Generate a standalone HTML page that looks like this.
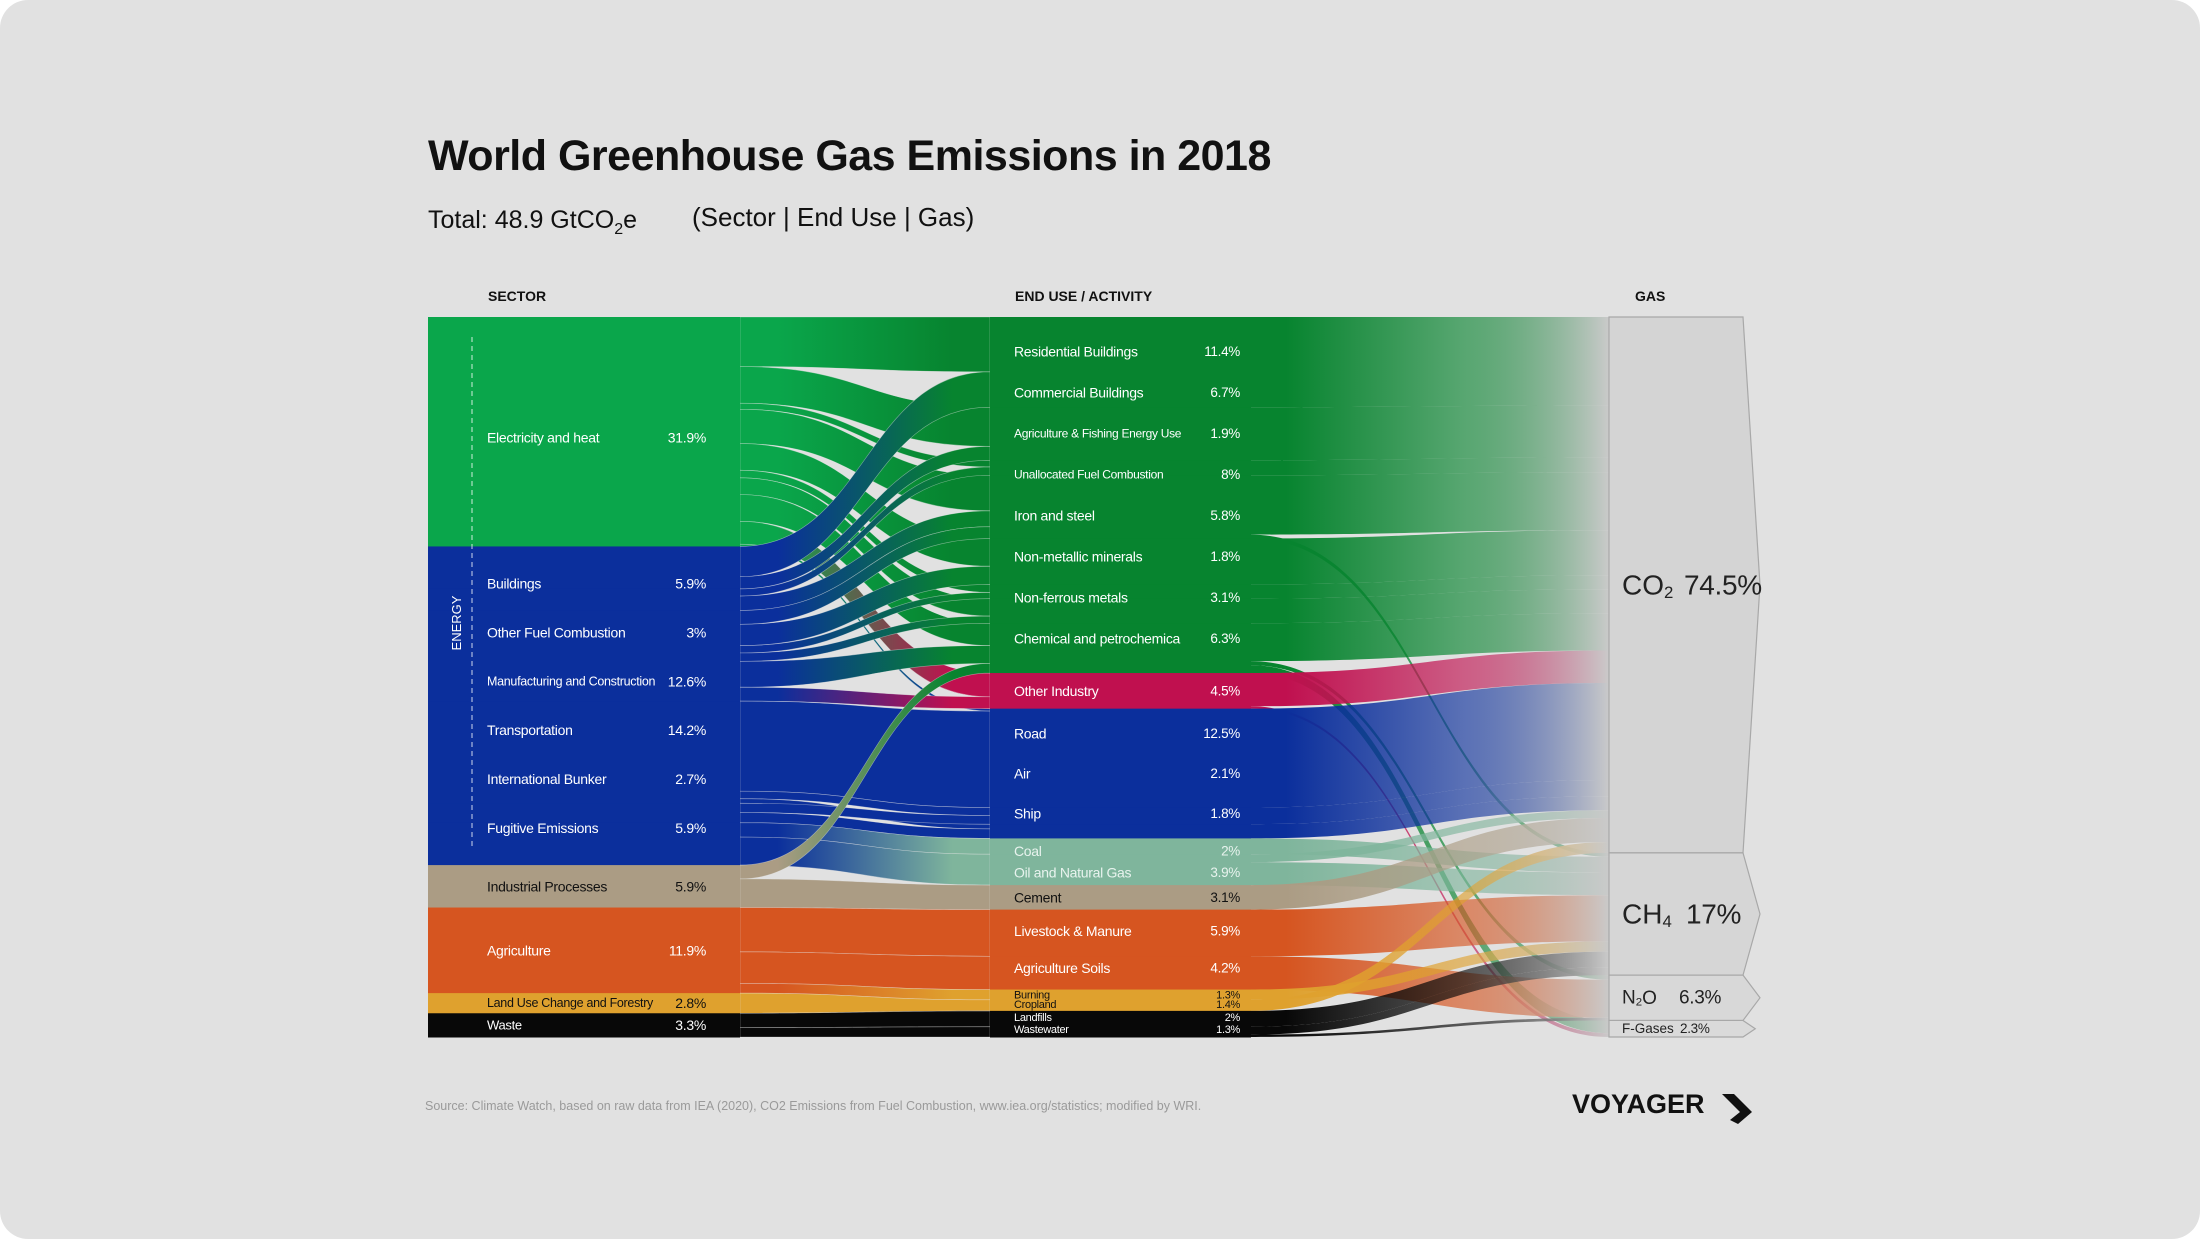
<!DOCTYPE html>
<html><head><meta charset="utf-8">
<style>
html,body{margin:0;padding:0;background:#fff;}
body{width:2200px;height:1239px;overflow:hidden;font-family:"Liberation Sans",sans-serif;}
#card{position:absolute;left:0;top:0;width:2200px;height:1239px;background:#e1e1e1;border-radius:28px;}
svg{position:absolute;left:0;top:0;}
</style></head>
<body>
<div id="card"></div>
<svg id="chart" width="2200" height="1239">
  <defs id="defs"></defs>
  <text x="428" y="170" font-size="43" font-weight="bold" fill="#111" letter-spacing="-0.5">World Greenhouse Gas Emissions in 2018</text>
  <text x="428" y="228" font-size="25" fill="#111">Total: 48.9 GtCO<tspan font-size="16" dy="6">2</tspan><tspan dy="-6">e</tspan></text>
  <text x="692" y="226" font-size="26" fill="#111">(Sector | End Use | Gas)</text>
  <text x="488" y="301" font-size="14" font-weight="bold" fill="#111">SECTOR</text>
  <text x="1015" y="301" font-size="14" font-weight="bold" fill="#111">END USE / ACTIVITY</text>
  <text x="1635" y="301" font-size="14" font-weight="bold" fill="#111">GAS</text>
  <g id="links1"></g><g id="links2"></g><g id="nodes"></g><g id="labels"></g>
  <text x="425" y="1110" font-size="12.5" fill="#9a9a9a">Source: Climate Watch, based on raw data from IEA (2020), CO2 Emissions from Fuel Combustion, www.iea.org/statistics; modified by WRI.</text>
  <text x="1572" y="1113" font-size="27" font-weight="bold" fill="#111">VOYAGER</text>
  <polygon points="1722,1094 1734,1094 1752,1112 1738,1124 1730,1120 1740,1112" fill="#111"/>
</svg>
<script>
const sectors=["Electricity and heat","Buildings","Other Fuel Combustion","Manufacturing and Construction","Transportation","International Bunker","Fugitive Emissions","Industrial Processes","Agriculture","Land Use Change and Forestry","Waste"];
const sectorValues=[31.9,5.9,3,12.6,14.2,2.7,5.9,5.9,11.9,2.8,3.3];
const sectorLabels=["31.9%","5.9%","3%","12.6%","14.2%","2.7%","5.9%","5.9%","11.9%","2.8%","3.3%"];
const endUses=["Residential Buildings","Commercial Buildings","Agriculture & Fishing Energy Use","Unallocated Fuel Combustion","Iron and steel","Non-metallic minerals","Non-ferrous metals","Chemical and petrochemica","Other Industry","Road","Air","Ship","Coal","Oil and Natural Gas","Cement","Livestock & Manure","Agriculture Soils","Burning","Cropland","Landfills","Wastewater"];
const endUseValues=[11.4,6.7,1.9,8,5.8,1.8,3.1,6.3,4.5,12.5,2.1,1.8,2,3.9,3.1,5.9,4.2,1.3,1.4,2,1.3];
const endUseLabels=["11.4%","6.7%","1.9%","8%","5.8%","1.8%","3.1%","6.3%","4.5%","12.5%","2.1%","1.8%","2%","3.9%","3.1%","5.9%","4.2%","1.3%","1.4%","2%","1.3%"];
const gases=["CO2","CH4","N2O","F-Gases"];
const gasValues=[74.5,17,6.3,2.3];
const gasLabels=["74.5%","17%","6.3%","2.3%"];
const flow1Source=[0,0,0,0,0,0,0,0,0,0, 1,1, 2,2, 3,3,3,3,3,3, 4,4,4, 5,5, 6,6, 7,7, 8,8,8, 9, 10,10];
const flow1Target=[0,1,2,3,4,5,6,7,8,9, 0,1, 2,3, 3,4,5,6,7,8, 9,10,11, 10,11, 12,13, 7,14, 15,16,17, 18, 19,20];
const flow1Value=[6.5,4.8,0.8,4.5,3.5,1.0,2.2,3.5,3.0,0.3, 4.2,1.7, 1.0,2.0, 1.5,2.3,0.8,0.9,2.8,1.5, 11.9,1.0,0.6, 1.1,1.2, 2.0,3.9, 1.5,3.1, 5.9,4.2,1.3, 1.4, 2.0,1.3];
const flow2Source=[0,1,2,3,3,4,5,6,7,7,7,8,8,9,10,11,12,13,13,14,15,16,17,18,19,20,20];
const flow2Target=[0,0,0,0,1,0,0,0,0,2,3,0,3,0,0,0,1,0,1,0,1,2,1,0,1,1,2];
const flow2Value=[11.4,6.7,1.9,7.5,0.5,5.8,1.8,3.1,4.8,0.5,1.0,4.2,0.3,12.5,2.1,1.8,2.0,1.0,2.9,3.1,5.9,4.2,1.3,1.4,2.0,1.0,0.3];

const sectorColors=["#0aa64b","#0b2f9c","#0b2f9c","#0b2f9c","#0b2f9c","#0b2f9c","#0b2f9c","#ab9c84","#d65520","#dfa12e","#080808"];
const endUseColors=["#07842f","#07842f","#07842f","#07842f","#07842f","#07842f","#07842f","#07842f","#c0104f","#0b2f9c","#0b2f9c","#0b2f9c","#7fb59c","#7fb59c","#ab9c84","#d65520","#d65520","#dfa12e","#dfa12e","#080808","#080808"];
const TOP=317,H=720,XL0=428,XL1=740,XM0=990,XM1=1250,XG0=1609,XG1=1743;
const NS="http://www.w3.org/2000/svg";
function mk(tag,attrs,parent){const e=document.createElementNS(NS,tag);for(const k in attrs)e.setAttribute(k,attrs[k]);parent.appendChild(e);return e;}
function stack(vals){const s=vals.reduce((a,b)=>a+b,0);let c=0;return vals.map(v=>{const y0=TOP+c/s*H;c+=v;return [y0,TOP+c/s*H];});}
const sy=stack(sectorValues),my=stack(endUseValues),gy=stack(gasValues);
const defs=document.getElementById('defs');
let gid=0;
function grad(x1,x2,stops){const id='g'+(gid++);const g=mk('linearGradient',{id:id,gradientUnits:'userSpaceOnUse',x1:x1,x2:x2,y1:0,y2:0},defs);stops.forEach(s=>mk('stop',{offset:s[0],'stop-color':s[1]},g));return id;}
function links(src,tgt,val,ys,yt,x0,x1,colorFn,parent,nm,strokeW){
  const n=val.length,outSum={},inSum={};
  for(let i=0;i<n;i++){outSum[src[i]]=(outSum[src[i]]||0)+val[i];inSum[tgt[i]]=(inSum[tgt[i]]||0)+val[i];}
  const idx=[...Array(n).keys()];
  const a0={},a1={};
  const bySrc=idx.slice().sort((a,b)=>src[a]-src[b]||tgt[a]-tgt[b]);
  const byTgt=idx.slice().sort((a,b)=>tgt[a]-tgt[b]||src[a]-src[b]);
  const cs={},ct={};
  bySrc.forEach(i=>{const s=src[i],h=ys[s][1]-ys[s][0];const c=cs[s]||0;a0[i]=[ys[s][0]+c/outSum[s]*h,ys[s][0]+(c+val[i])/outSum[s]*h];cs[s]=c+val[i];});
  byTgt.forEach(i=>{const t=tgt[i],h=yt[t][1]-yt[t][0];const c=ct[t]||0;a1[i]=[yt[t][0]+c/inSum[t]*h,yt[t][0]+(c+val[i])/inSum[t]*h];ct[t]=c+val[i];});
  const xm=(x0+x1)/2;
  idx.forEach(i=>{
    const [p,q]=a0[i],[r,s]=a1[i];
    const d=`M${x0},${p}C${xm},${p} ${xm},${r} ${x1},${r}L${x1},${s}C${xm},${s} ${xm},${q} ${x0},${q}Z`;
    const el=mk('path',{d:d,fill:'url(#'+colorFn(i)+')',stroke:'#e8e8e8','stroke-width':strokeW,'stroke-opacity':0.5},parent);
    
    
  });
}
links(flow1Source,flow1Target,flow1Value,sy,my,XL1,XM0,i=>grad(XL1,XM0,[[0,sectorColors[flow1Source[i]]],[0.15,sectorColors[flow1Source[i]]],[0.85,endUseColors[flow1Target[i]]],[1,endUseColors[flow1Target[i]]]]),document.getElementById('links1'),'sector-enduse-flow',0.6);
links(flow2Source,flow2Target,flow2Value,my,gy,XM1,XG0,i=>grad(XM1,XG0,[[0,endUseColors[flow2Source[i]]],[0.1,endUseColors[flow2Source[i]]],[0.6,endUseColors[flow2Source[i]]+'a0'],[1,'#cacaca']]),document.getElementById('links2'),'enduse-gas-flow',0);

const nodes=document.getElementById('nodes'),labels=document.getElementById('labels');
sectors.forEach((s,i)=>{
  const r=mk('rect',{x:XL0,y:sy[i][0],width:XL1-XL0,height:sy[i][1]-sy[i][0]+0.5,fill:sectorColors[i]},nodes);
  
  
});
endUses.forEach((s,i)=>{
  const r=mk('rect',{x:XM0,y:my[i][0],width:XM1-XM0+1,height:my[i][1]-my[i][0]+0.5,fill:endUseColors[i]},nodes);
  
  
});
const gcol=['#d4d4d4','#d6d6d6','#d8d8d8','#dadada'];
gases.forEach((g,i)=>{
  const [a,b]=gy[i],m=(a+b)/2,tip=Math.min(17,(b-a)/2+4);
  const p=mk('polygon',{points:`${XG0},${a} ${XG1},${a} ${XG1+tip},${m} ${XG1},${b} ${XG0},${b}`,fill:gcol[i],stroke:'#a8a8a8','stroke-width':1.2},nodes);
  
  
});
function groups(colors,ys){const out=[];let st=0;for(let i=1;i<=colors.length;i++){if(i==colors.length||colors[i]!==colors[st]){const n=i-st,t=ys[st][0],b=ys[i-1][1],mid=(t+b)/2,sp=(b-t)/n*0.92;for(let k=0;k<n;k++)out.push(mid+(k-(n-1)/2)*sp);st=i;}}return out;}
const sl=groups(sectorColors,sy),ml=groups(endUseColors,my);
function txt(x,y,s,size,fill,anchor,nm){const t=mk('text',{x:x,y:y,'font-size':size,fill:fill,'text-anchor':anchor||'start','dominant-baseline':'central','letter-spacing':'-0.3'},labels);t.textContent=s;return t;}
const darkText=c=>c==='#ab9c84'||c==='#dfa12e';
sectors.forEach((s,i)=>{const f=darkText(sectorColors[i])?'#111':'#fff';const sz=(i==3||i==9)?12.5:(i==10?13:14);
  txt(487,sl[i]+(i==0?6:0),s,sz,f,'start','sector-label-'+i);txt(706,sl[i]+(i==0?6:0),sectorLabels[i],14,f,'end','sector-value-'+i);});
endUses.forEach((s,i)=>{const c=endUseColors[i];const f=darkText(c)?'#111':(c==='#7fb59c'?'#e8f3ee':'#fff');
  const sz=i>=17?11:((i==2||i==3)?12:14);
  txt(1014,ml[i],s,sz,f,'start','enduse-label-'+i);txt(1240,ml[i],endUseLabels[i],sz==11?11:13.5,f,'end','enduse-value-'+i);});
const gsz=[28,28,19,13.5];
gases.forEach((g,i)=>{const y=(gy[i][0]+gy[i][1])/2;
  const t=mk('text',{x:1622,y:y,'font-size':gsz[i],fill:'#222','dominant-baseline':'central'},labels);
  
  if(i<3){const m=g.match(/^([A-Z]+)(\d)(.*)$/);t.appendChild(document.createTextNode(m[1]));const s=document.createElementNS(NS,'tspan');s.setAttribute('font-size',gsz[i]*0.6);s.setAttribute('dy',gsz[i]*0.25);s.textContent=m[2];t.appendChild(s);const r=document.createElementNS(NS,'tspan');r.setAttribute('dy',-gsz[i]*0.25);r.textContent=m[3];t.appendChild(r);}
  else t.textContent=g;
  const dx=[1684,1686,1679,1680][i];
  txt(dx,y,gasLabels[i],gsz[i],'#222','start','gas-value-'+i);
});
const e=mk('text',{x:0,y:0,'font-size':13,fill:'#fff','text-anchor':'middle',transform:'translate(461,623) rotate(-90)'},labels);e.textContent='ENERGY';

const dl=mk('line',{x1:472,y1:337,x2:472,y2:848,stroke:'#fff','stroke-width':1,'stroke-dasharray':'5,4','stroke-opacity':0.8},labels);

</script>
</body></html>
